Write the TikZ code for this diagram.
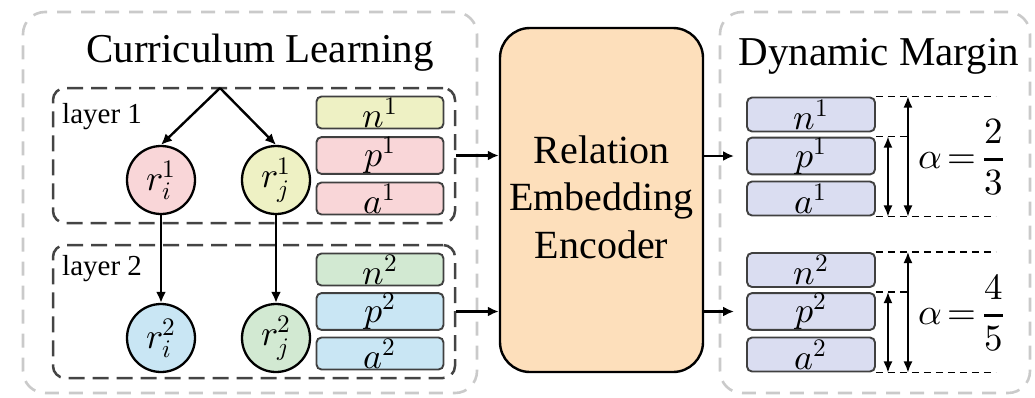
\documentclass[tikz,border=0pt]{standalone}
\usepackage{amsmath}
\usepackage{fontspec}
\usepackage{unicode-math}
\setmainfont{Liberation Serif}
\setmathfont{Latin Modern Math}
\usetikzlibrary{arrows.meta}

\definecolor{tokyellow}{HTML}{EEF1C4}
\definecolor{tokpink}{HTML}{F9D6D8}
\definecolor{tokgreen}{HTML}{D2E9D2}
\definecolor{tokblue}{HTML}{C9E6F4}
\definecolor{toklav}{HTML}{DADDF1}
\definecolor{encfill}{HTML}{FDDFBB}
\definecolor{framegray}{HTML}{CACACA}
\definecolor{layergray}{HTML}{444444}

\tikzset{
  outerbox/.style={draw=framegray, line width=2.6pt, dash pattern=on 14pt off 10pt,
    rounded corners=22pt, inner sep=0pt},
  layerbox/.style={draw=layergray, line width=2.5pt, dash pattern=on 16pt off 8pt,
    rounded corners=12pt, minimum width=402pt, inner sep=0pt},
  tok/.style={draw=black!75, line width=1.9pt, rounded corners=5pt,
    minimum width=127pt, minimum height=32pt, inner sep=0pt,
    font=\fontsize{36}{36}\selectfont},
  rtok/.style={tok, fill=toklav, minimum width=128pt, minimum height=34pt},
  rel/.style={circle, draw=black, line width=2.3pt, minimum size=68pt, inner sep=0pt,
    font=\fontsize{36}{36}\selectfont},
  title/.style={font=\fontsize{41}{41}\selectfont, inner sep=0pt},
  lab/.style={font=\fontsize{29}{29}\selectfont, inner sep=0pt},
  arr/.style={-{Latex[length=11pt,width=10pt]}, line width=2.4pt},
  guide/.style={line width=1.3pt, dash pattern=on 7pt off 5pt},
  span/.style={{Latex[length=11pt,width=9pt]}-{Latex[length=11pt,width=9pt]}, line width=1.6pt},
  ratio/.style={font=\fontsize{37}{37}\selectfont, inner sep=0pt}
}

\begin{document}
\begin{tikzpicture}[x=1pt, y=-1pt]
\useasboundingbox (0,0) rectangle (1035,397);

% outer panels
\node[outerbox, minimum width=454pt, minimum height=381pt] (currpanel) at (250,202.5) {};
\node[outerbox, minimum width=310pt, minimum height=381pt] (marginpanel) at (875,202.5) {};

\node[title, anchor=base] (currtitle) at (260,62) {Curriculum Learning};
\node[title, anchor=base] (margintitle) at (879,65) {Dynamic Margin};

% layers
\node[layerbox, minimum height=135pt] (layer1) at (254,155.5) {};
\node[layerbox, minimum height=133pt] (layer2) at (254,311.5) {};
\node[lab, anchor=base west] (lab1) at (62,123) {layer 1};
\node[lab, anchor=base west] (lab2) at (62,275) {layer 2};

% relation nodes
\node[rel, fill=tokpink] (ri1) at (161,180) {$r_i^1$};
\node[rel, fill=tokyellow] (rj1) at (276,180) {$r_j^1$};
\node[rel, fill=tokblue] (ri2) at (161,338) {$r_i^2$};
\node[rel, fill=tokgreen] (rj2) at (276,338) {$r_j^2$};

\coordinate (apex) at (220,88);
\draw[arr] (apex) -- (ri1.north);
\draw[arr] (apex) -- (rj1.north);
\draw[arr] (ri1.south) -- (ri2.north);
\draw[arr] (rj1.south) -- (rj2.north);

% tokens per layer
\node[tok, fill=tokyellow] (n1) at (380,112.5) {$n^1$};
\node[tok, fill=tokpink] (p1) at (380,155.5) {$p^1$};
\node[tok, fill=tokpink] (a1) at (380,198.5) {$a^1$};
\node[tok, fill=tokgreen] (n2) at (380,269.5) {$n^2$};
\node[tok, fill=tokblue] (p2) at (380,311.5) {$p^2$};
\node[tok, fill=tokblue] (a2) at (380,353.5) {$a^2$};

% encoder
\node[draw=black, line width=2.4pt, rounded corners=30pt, fill=encfill,
  minimum width=203pt, minimum height=344pt, inner sep=0pt] (enc) at (601.5,200) {};
\node[font=\fontsize{40}{47.5}\selectfont, align=center, inner sep=0pt] (enctext)
  at (601.5,197) {Relation\\Embedding\\Encoder};

\draw[arr] (layer1.east) -- (layer1.east -| enc.west);
\draw[arr] (layer2.east) -- (layer2.east -| enc.west);

% margin tokens
\node[rtok] (rn1) at (811,114.5) {$n^1$};
\node[rtok] (rp1) at (811,156) {$p^1$};
\node[rtok] (ra1) at (811,198.5) {$a^1$};
\node[rtok] (rn2) at (811,270) {$n^2$};
\node[rtok] (rp2) at (811,311.5) {$p^2$};
\node[rtok] (ra2) at (811,354.5) {$a^2$};

\draw[arr, shorten >=12pt] (enc.east |- rp1.west) -- (rp1.west);
\draw[arr, shorten >=12pt] (enc.east |- rp2.west) -- (rp2.west);

% margin spans, first group
\draw[guide] (rn1.north east) -- ++(120,0);
\draw[guide] (rp1.north east) -- ++(33,0);
\draw[guide] (ra1.south east) -- ++(120,0);
\draw[span] ([xshift=32pt]rn1.north east) -- ([xshift=32pt]ra1.south east);
\draw[span] ([xshift=12pt]rp1.north east) -- ([xshift=12pt]ra1.south east);
\node[ratio] (alpha1) at (961,157) {$\alpha\mkern-2mu=\mkern-2mu\genfrac{}{}{3.2pt}{0}{2}{3}$};

% margin spans, second group
\draw[guide] (rn2.north east) -- ++(120,0);
\draw[guide] (rp2.north east) -- ++(33,0);
\draw[guide] (ra2.south east) -- ++(120,0);
\draw[span] ([xshift=32pt]rn2.north east) -- ([xshift=32pt]ra2.south east);
\draw[span] ([xshift=12pt]rp2.north east) -- ([xshift=12pt]ra2.south east);
\node[ratio] (alpha2) at (961,313) {$\alpha\mkern-2mu=\mkern-2mu\genfrac{}{}{3.2pt}{0}{4}{5}$};
\end{tikzpicture}
\end{document}
